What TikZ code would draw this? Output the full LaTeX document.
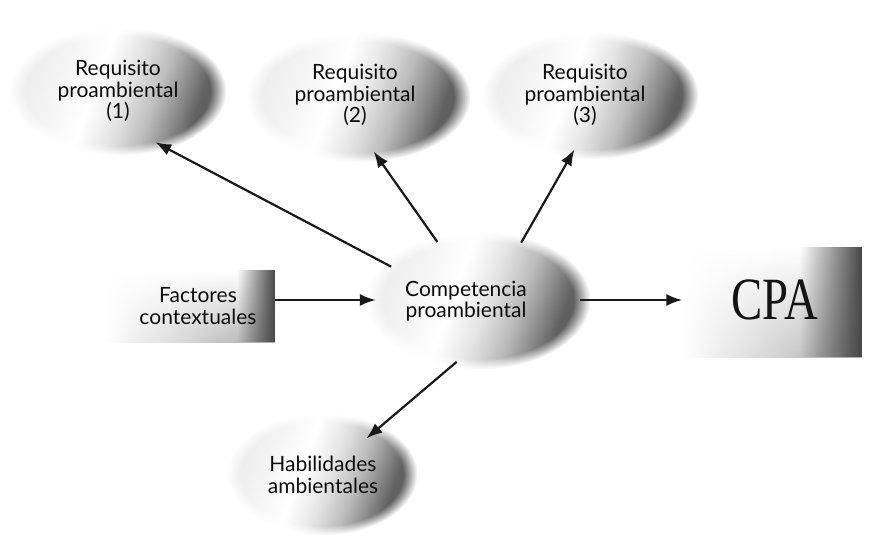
\documentclass[tikz,border=0pt]{standalone}
\usepackage{fontspec}
\setmainfont{Lato}
\newfontfamily\cpafont{Liberation Serif}
\usetikzlibrary{shapes.geometric,fadings,arrows.meta,calc}

\colorlet{gL}{black!12}
\colorlet{gK}{black!6}
\colorlet{gA}{black!10}
\colorlet{gB}{black!26}
\colorlet{gC}{black!45}
\colorlet{gD}{black!62}
\colorlet{gE}{black!72}

% shading of the ovals: pale on the left, dark rim towards the lower right
\pgfdeclarehorizontalshading{ovalshade}{100bp}{color(0bp)=(gL); color(30bp)=(gK);
  color(44bp)=(white); color(52bp)=(gA); color(60bp)=(gB); color(66bp)=(gC);
  color(71bp)=(gD); color(100bp)=(gE)}
\tikzfading[name=soft left, left color=transparent!100, middle color=transparent!0, right color=transparent!0]
\tikzfading[name=fade from left, left color=transparent!100, right color=transparent!0]

\begin{document}
\begin{tikzpicture}[x=1pt,y=1pt,
  core/.style={ellipse, inner sep=0pt},
  boxcore/.style={rectangle, inner sep=0pt},
  lbl/.style={align=center, font=\fontsize{21}{21.5}\selectfont, text=black!95},
  arr/.style={-{Latex[length=16pt,width=12pt]}, line width=2.2pt, black!90},
  oval/.style={shading=ovalshade, shading angle=-20, path fading=circle with fuzzy edge 15 percent},
  boxbase/.style={top color=white, middle color=black!14, bottom color=black!34, path fading=soft left},
  boxband/.style={fill=black!72, path fading=fade from left},
]
\useasboundingbox (0,0) rectangle (877,538);

% shapes (invisible cores used as connector ends)
\node[core, minimum width=200, minimum height=110] (req1) at (118,447) {};
\node[core, minimum width=204, minimum height=110] (req2) at (358,441) {};
\node[core, minimum width=200, minimum height=110] (req3) at (590,443) {};
\node[core, minimum width=204, minimum height=126] (comp) at (478,238) {};
\node[core, minimum width=176, minimum height=114] (hab)  at (322,64) {};
\node[boxcore, minimum width=170, minimum height=72]  (fac) at (190,232) {};
\node[boxcore, minimum width=179, minimum height=110] (cpa) at (772,236) {};

% soft shaded ovals
\shade[oval] ($(req1.center)+(-108,-64)$) rectangle ($(req1.center)+(108,64)$);
\shade[oval] ($(req2.center)+(-112,-65)$) rectangle ($(req2.center)+(112,65)$);
\shade[oval] ($(req3.center)+(-108,-64)$) rectangle ($(req3.center)+(108,64)$);
\shade[oval] ($(comp.center)+(-112,-69)$) rectangle ($(comp.center)+(112,69)$);
\shade[oval] ($(hab.center)+(-95,-61)$) rectangle ($(hab.center)+(95,61)$);

% shaded boxes with a dark band on the right
\shade[boxbase] (fac.south west) rectangle (fac.north east);
\fill[boxband] ($(fac.north east)+(-38,0)$) rectangle (fac.south east);
\shade[boxbase] (cpa.south west) rectangle (cpa.north east);
\fill[boxband] ($(cpa.north east)+(-62,0)$) rectangle (cpa.south east);

% labels
\node[lbl] (req1t) at (118,447) {Requisito\\proambiental\\(1)};
\node[lbl] (req2t) at (355,443) {Requisito\\proambiental\\(2)};
\node[lbl] (req3t) at (585,443) {Requisito\\proambiental\\(3)};
\node[lbl] (compt) at (466,237) {Competencia\\proambiental};
\node[lbl] (habt)  at (323,63)  {Habilidades\\ambientales};
\node[lbl] (fact)  at (198,232) {Factores\\contextuales};
\node[text=black!92, inner sep=0pt] (cpat) at (775,238)
  {\scalebox{0.78}[1]{\cpafont\fontsize{60}{60}\selectfont CPA}};

% connectors
\draw[arr] (comp.159) -- (req1.-54);
\draw[arr] (comp.125) -- (req2.-74);
\draw[arr] (comp.53)  -- (req3.-106);
\draw[arr, shorten >=-14pt] (comp.-109) -- (hab.39);
\draw[arr] (fac.east |- comp.west) -- (comp.west);
\draw[arr] (comp.east) -- (comp.east -| cpa.west);
\end{tikzpicture}
\end{document}
